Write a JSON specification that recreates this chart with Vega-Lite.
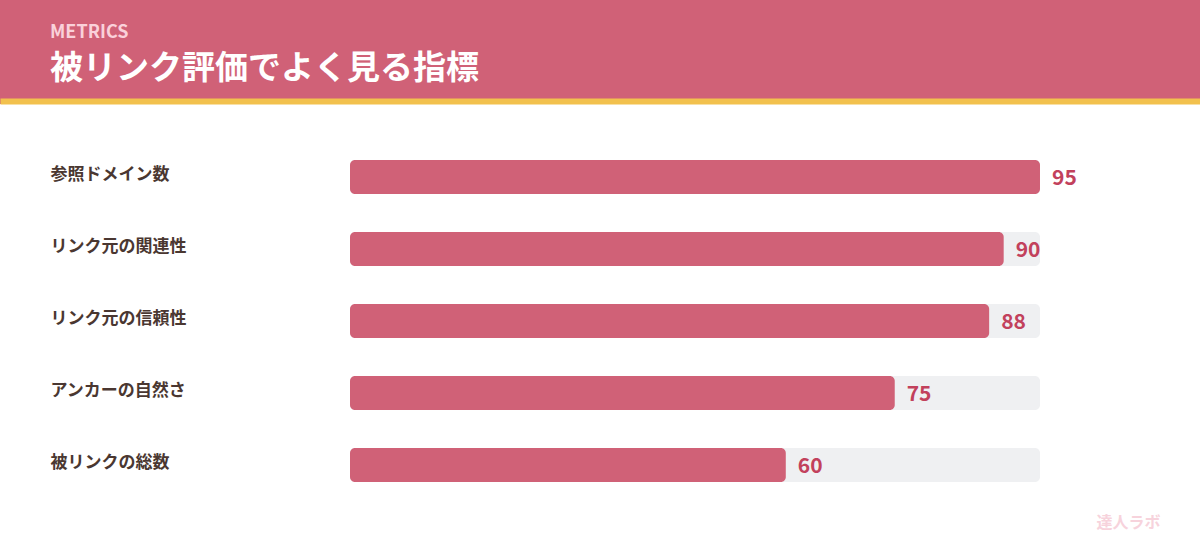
{
  "$schema": "https://vega.github.io/schema/vega-lite/v6.json",
  "width": 1200,
  "height": 448,
  "autosize": {"type": "none"},
  "padding": {"top": 104, "left": 0, "right": 0, "bottom": 0},
  "background": "#d06177",
  "view": {"fill": "#ffffff", "stroke": null},
  "title": {
    "text": "METRICS",
    "subtitle": "被リンク評価でよく見る指標",
    "anchor": "start",
    "frame": "group",
    "dx": 50,
    "offset": 15,
    "color": "#fad1da",
    "font": "Noto Sans CJK JP",
    "fontSize": 18,
    "fontWeight": "bold",
    "subtitleColor": "#ffffff",
    "subtitleFont": "Noto Sans CJK JP",
    "subtitleFontSize": 33,
    "subtitleFontWeight": "bold",
    "subtitlePadding": 11
  },
  "data": {
    "values": [
      {"metric": "参照ドメイン数", "value": 95, "track": 95},
      {"metric": "リンク元の関連性", "value": 90, "track": 95},
      {"metric": "リンク元の信頼性", "value": 88, "track": 95},
      {"metric": "アンカーの自然さ", "value": 75, "track": 95},
      {"metric": "被リンクの総数", "value": 60, "track": 95}
    ]
  },
  "encoding": {
    "y": {
      "field": "metric",
      "type": "nominal",
      "sort": null,
      "scale": {"paddingInner": 0.528, "paddingOuter": 0.875, "align": 0.444},
      "axis": {
        "title": null,
        "domain": false,
        "ticks": false,
        "grid": false,
        "labelAlign": "left",
        "labelPadding": -50,
        "labelBaseline": "middle",
        "labelOffset": -2,
        "labelFont": "Noto Sans CJK JP",
        "labelFontSize": 17,
        "labelFontWeight": "bold",
        "labelColor": "#4a3731"
      }
    }
  },
  "layer": [
    {
      "mark": {"type": "bar", "cornerRadius": 5, "color": "#eff0f2"},
      "encoding": {
        "x": {
          "field": "track",
          "type": "quantitative",
          "scale": {"domain": [-48.19, 117.03], "nice": false, "zero": false},
          "axis": {
            "orient": "top",
            "offset": 3,
            "domain": true,
            "domainColor": "#f2c14e",
            "domainWidth": 6,
            "ticks": false,
            "labels": false,
            "grid": false,
            "title": "達人ラボ",
            "titleX": 1160,
            "titleY": 421,
            "titleAlign": "right",
            "titleBaseline": "middle",
            "titleColor": "#f7d3dc",
            "titleFont": "Noto Sans CJK JP",
            "titleFontSize": 16,
            "titleFontWeight": "bold"
          }
        },
        "x2": {"datum": 0}
      }
    },
    {
      "mark": {"type": "bar", "cornerRadius": 5, "color": "#d06177"},
      "encoding": {
        "x": {
          "field": "value",
          "type": "quantitative",
          "axis": {
            "orient": "top",
            "offset": 3,
            "domain": true,
            "domainColor": "#f2c14e",
            "domainWidth": 6,
            "ticks": false,
            "labels": false,
            "grid": false,
            "title": "達人ラボ",
            "titleX": 1160,
            "titleY": 421,
            "titleAlign": "right",
            "titleBaseline": "middle",
            "titleColor": "#f7d3dc",
            "titleFont": "Noto Sans CJK JP",
            "titleFontSize": 16,
            "titleFontWeight": "bold"
          }
        },
        "x2": {"datum": 0}
      }
    },
    {
      "mark": {
        "type": "text",
        "align": "left",
        "baseline": "middle",
        "dx": 12,
        "dy": 2,
        "font": "Noto Sans CJK JP",
        "fontSize": 21,
        "fontWeight": "bold",
        "color": "#c2415c"
      },
      "encoding": {
        "x": {
          "field": "value",
          "type": "quantitative",
          "axis": {
            "orient": "top",
            "offset": 3,
            "domain": true,
            "domainColor": "#f2c14e",
            "domainWidth": 6,
            "ticks": false,
            "labels": false,
            "grid": false,
            "title": "達人ラボ",
            "titleX": 1160,
            "titleY": 421,
            "titleAlign": "right",
            "titleBaseline": "middle",
            "titleColor": "#f7d3dc",
            "titleFont": "Noto Sans CJK JP",
            "titleFontSize": 16,
            "titleFontWeight": "bold"
          }
        },
        "text": {"field": "value", "type": "quantitative"}
      }
    }
  ]
}
